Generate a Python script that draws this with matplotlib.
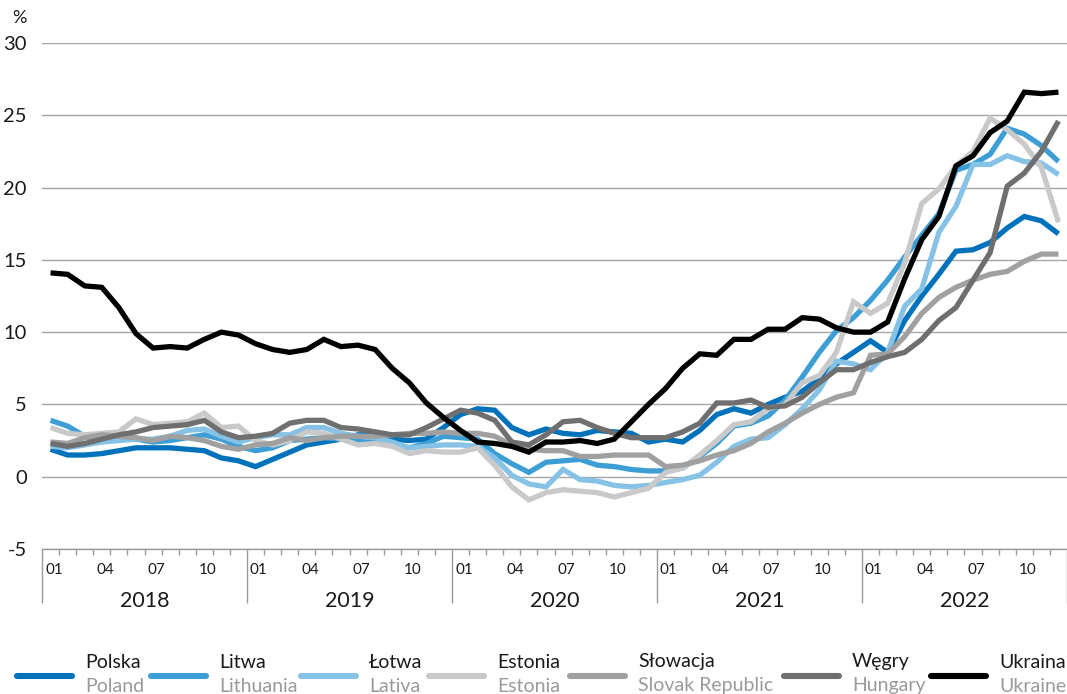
import matplotlib
matplotlib.use("Agg")
import matplotlib.pyplot as plt
import matplotlib.transforms as mtransforms
import numpy as np

plt.rcParams["font.family"] = ["Lato", "DejaVu Sans"]

# --- dane: roczna inflacja CPI, % r/r, 01.2018 - 12.2022 ---
years = ["2018", "2019", "2020", "2021", "2022"]
month_labels = ["01", "04", "07", "10"]

polska = [1.9, 1.5, 1.5, 1.6, 1.8, 2.0, 2.0, 2.0, 1.9, 1.8, 1.3, 1.1,
          0.7, 1.2, 1.7, 2.2, 2.4, 2.6, 2.9, 2.9, 2.6, 2.5, 2.6, 3.4,
          4.3, 4.7, 4.6, 3.4, 2.9, 3.3, 3.0, 2.9, 3.2, 3.1, 3.0, 2.4,
          2.6, 2.4, 3.2, 4.3, 4.7, 4.4, 5.0, 5.5, 5.9, 6.8, 7.8, 8.6,
          9.4, 8.6, 10.8, 12.5, 14.0, 15.6, 15.7, 16.2, 17.2, 18.0, 17.7, 16.8]
litwa = [3.9, 3.5, 2.8, 2.5, 2.6, 2.6, 2.4, 2.5, 2.7, 2.9, 2.6, 2.1,
         1.8, 2.0, 2.5, 2.6, 2.7, 2.6, 2.5, 2.5, 2.2, 2.0, 2.3, 2.8,
         2.7, 2.6, 1.6, 0.9, 0.3, 1.0, 1.1, 1.2, 0.8, 0.7, 0.5, 0.4,
         0.4, 0.6, 1.4, 2.3, 3.5, 3.7, 4.2, 5.3, 6.9, 8.6, 10.1, 11.0,
         12.2, 13.6, 15.2, 16.7, 18.2, 21.2, 21.6, 22.3, 24.1, 23.7, 22.9, 21.8]
lotwa = [2.1, 2.0, 2.2, 2.4, 2.5, 2.6, 2.6, 2.8, 3.2, 3.3, 2.8, 2.4,
         2.7, 2.9, 2.9, 3.4, 3.4, 3.0, 2.8, 2.7, 2.4, 2.0, 2.1, 2.2,
         2.2, 2.1, 1.3, 0.1, -0.5, -0.7, 0.5, -0.2, -0.3, -0.6, -0.7, -0.6,
         -0.4, -0.2, 0.1, 1.0, 2.1, 2.6, 2.7, 3.6, 4.7, 6.0, 8.0, 7.8,
         7.4, 8.6, 11.8, 13.0, 16.9, 18.7, 21.6, 21.6, 22.2, 21.8, 21.7, 20.9]
estonia = [3.4, 3.0, 2.9, 3.0, 3.1, 4.0, 3.6, 3.7, 3.8, 4.4, 3.4, 3.5,
           2.5, 2.2, 2.5, 3.1, 3.0, 2.6, 2.2, 2.3, 2.1, 1.6, 1.8, 1.7,
           1.7, 2.0, 0.8, -0.7, -1.6, -1.1, -0.9, -1.0, -1.1, -1.4, -1.1, -0.8,
           0.3, 0.6, 1.5, 2.5, 3.6, 3.8, 4.7, 5.0, 6.5, 7.0, 8.6, 12.1,
           11.3, 12.0, 14.8, 18.9, 19.9, 21.5, 22.5, 24.8, 24.0, 23.0, 21.4, 17.6]
slowacja = [2.4, 2.3, 2.7, 2.9, 2.8, 2.7, 2.5, 2.8, 2.7, 2.5, 2.1, 1.9,
            2.2, 2.3, 2.7, 2.5, 2.7, 2.8, 2.8, 2.8, 2.9, 3.0, 3.0, 3.1,
            3.0, 3.0, 2.8, 2.2, 1.9, 1.8, 1.8, 1.4, 1.4, 1.5, 1.5, 1.5,
            0.7, 0.8, 1.1, 1.5, 1.8, 2.3, 3.1, 3.7, 4.4, 5.0, 5.5, 5.8,
            8.4, 8.5, 9.7, 11.3, 12.4, 13.1, 13.6, 14.0, 14.2, 14.9, 15.4, 15.4]
wegry = [2.3, 2.1, 2.3, 2.6, 2.9, 3.1, 3.4, 3.5, 3.6, 3.9, 3.1, 2.7,
         2.8, 3.0, 3.7, 3.9, 3.9, 3.4, 3.3, 3.1, 2.9, 2.9, 3.4, 4.0,
         4.6, 4.4, 3.9, 2.4, 2.2, 2.9, 3.8, 3.9, 3.4, 3.0, 2.7, 2.7,
         2.7, 3.1, 3.7, 5.1, 5.1, 5.3, 4.8, 4.9, 5.5, 6.5, 7.4, 7.4,
         7.9, 8.3, 8.6, 9.5, 10.8, 11.7, 13.6, 15.5, 20.1, 21.0, 22.5, 24.6]
ukraina = [14.1, 14.0, 13.2, 13.1, 11.7, 9.9, 8.9, 9.0, 8.9, 9.5, 10.0, 9.8,
           9.2, 8.8, 8.6, 8.8, 9.5, 9.0, 9.1, 8.8, 7.5, 6.5, 5.1, 4.1,
           3.2, 2.4, 2.3, 2.1, 1.7, 2.4, 2.4, 2.5, 2.3, 2.6, 3.8, 5.0,
           6.1, 7.5, 8.5, 8.4, 9.5, 9.5, 10.2, 10.2, 11.0, 10.9, 10.3, 10.0,
           10.0, 10.7, 13.7, 16.4, 18.0, 21.5, 22.2, 23.8, 24.6, 26.6, 26.5, 26.6]

series = [
    ("Polska", "Poland", polska, "#0072BC"),
    ("Litwa", "Lithuania", litwa, "#3D9DD5"),
    ("Łotwa", "Lativa", lotwa, "#86C2E6"),
    ("Estonia", "Estonia", estonia, "#C9C9C9"),
    ("Słowacja", "Slovak Republic", slowacja, "#A0A0A0"),
    ("Węgry", "Hungary", wegry, "#6F6F6F"),
    ("Ukraina", "Ukraine", ukraina, "#000000"),
]

W, H = 1067, 694
fig = plt.figure(figsize=(W / 100, H / 100), dpi=100)
ax = fig.add_axes([42 / W, (H - 549) / H, (W - 42) / W, (549 - 43) / H])

x = np.arange(len(polska))
for pl, en, vals, col in series:
    ax.plot(x, vals, color=col, lw=3.8, solid_joinstyle="miter", solid_capstyle="butt", zorder=3)

ax.set_xlim(-0.5, len(x) - 0.5)
ax.set_ylim(-5, 30)
ax.set_yticks(range(-5, 31, 5))
ax.set_yticklabels([str(v) for v in range(-5, 31, 5)], fontsize=14.5, color="#1a1a1a")
ax.tick_params(axis="y", length=0, pad=11)
ax.yaxis.grid(True, color="#A6A6A6", lw=1.0)
ax.set_axisbelow(True)

for s in ["top", "right", "left"]:
    ax.spines[s].set_visible(False)
ax.spines["bottom"].set_color("#9A9A9A")
ax.spines["bottom"].set_linewidth(1.0)

# ticks: krótkie co miesiąc, długie na granicy lat
n_years = len(years)
ax.set_xticks(np.arange(0, 12 * n_years + 1, 12) - 0.5)
ax.set_xticklabels([])
ax.set_xticks(np.arange(0, 12 * n_years + 1) - 0.5, minor=True)
ax.tick_params(axis="x", which="major", length=39, width=1.0, color="#9A9A9A")
ax.tick_params(axis="x", which="minor", length=4.5, width=1.0, color="#9A9A9A")

trans = mtransforms.blended_transform_factory(ax.transData, ax.transAxes)
off = mtransforms.offset_copy(trans, fig=fig, x=3, y=-21, units="dots")
off_y = mtransforms.offset_copy(trans, fig=fig, x=0, y=-52, units="dots")
for yi in range(n_years):
    for mi, lab in enumerate(month_labels):
        ax.text(12 * yi + 3 * mi - 0.5, 0, lab, transform=off, ha="left", va="center",
                fontsize=11, color="#1a1a1a")
    ax.text(12 * yi + 5.5, 0, years[yi], transform=off_y, ha="center", va="center",
            fontsize=15.5, color="#1a1a1a")

fig.text(12 / W, 1 - 18 / H, "%", fontsize=13, ha="left", va="center", color="#1a1a1a")

# legenda na dole, w pikselach
leg = fig.add_axes([0, 0, 1, 1], facecolor="none")
leg.set_xlim(0, W)
leg.set_ylim(H, 0)
leg.axis("off")
handle_x = [17, 151, 301, 429, 570, 784, 931]
for hx, (pl, en, vals, col) in zip(handle_x, series):
    leg.plot([hx, hx + 55], [676, 676], color=col, lw=4.4, solid_capstyle="round")
    leg.text(hx + 68, 662, pl, fontsize=14, ha="left", va="center", color="#1a1a1a")
    leg.text(hx + 68, 686, en, fontsize=14, ha="left", va="center", color="#9A9A9A")

fig.savefig("out.png", dpi=100)
